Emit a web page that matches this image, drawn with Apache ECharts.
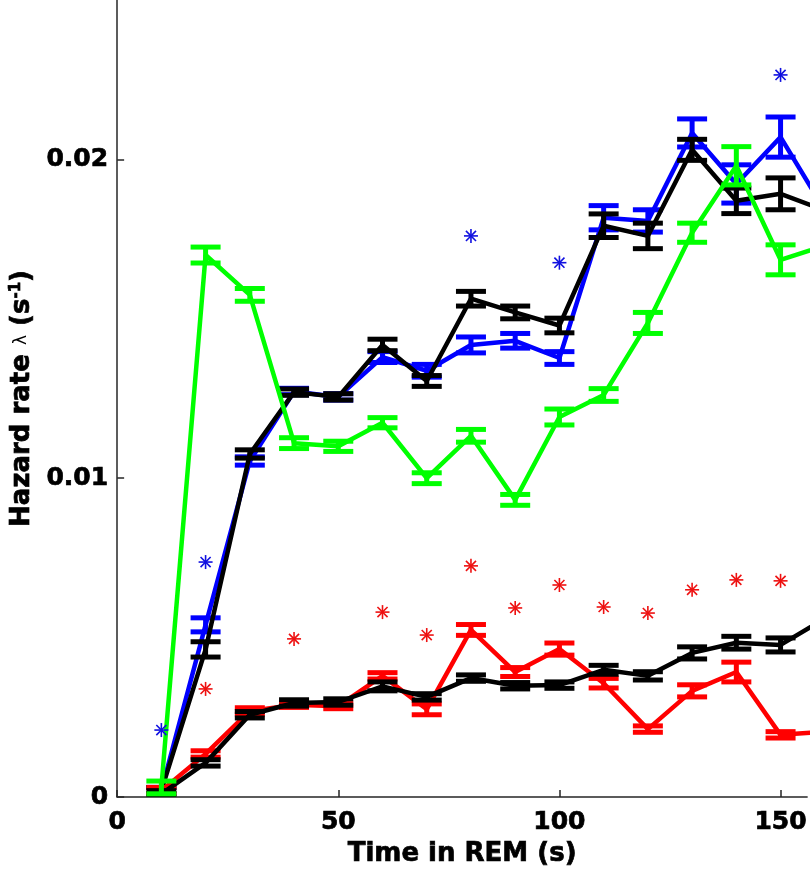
<!DOCTYPE html>
<html>
<head>
<meta charset="utf-8">
<script src="https://cdn.jsdelivr.net/npm/echarts@6/dist/echarts.min.js"></script>
<style>
html,body{margin:0;padding:0;background:#fff;}
#chart{width:810px;height:882px;}
</style>
</head>
<body>
<div id="chart"></div>
<script>
// ---- data ----
const timeBins = [10,20,30,40,50,60,70,80,90,100,110,120,130,140,150,160];

const greenMean = [0.0003,0.0170,0.01575,0.0111,0.0110,0.01174,0.0100,0.01133,0.00932,0.01192,0.01261,0.01487,0.0177,0.0198,0.01685,0.0173];
const greenErr  = [0.0002,0.00025,0.0002,0.00017,0.00016,0.00016,0.00017,0.0002,0.00017,0.00025,0.0002,0.00033,0.0003,0.0006,0.00047,0.0005];

const blueMean = [0.0002,0.0054,0.01054,0.01272,0.01255,0.0138,0.01337,0.01418,0.01431,0.01377,0.01817,0.01807,0.02083,0.01923,0.0207,0.0184];
const blueErr  = [0.0001,0.00022,0.00013,0.0001,0.0001,0.00017,0.0002,0.00025,0.00023,0.0002,0.00038,0.00035,0.00044,0.0006,0.00063,0.0006];

const blackUpperMean = [0.0002,0.00463,0.01076,0.0127,0.01255,0.01418,0.01305,0.01563,0.0152,0.01479,0.01792,0.0176,0.0203,0.0187,0.01892,0.0184];
const blackUpperErr  = [0.0001,0.00024,0.00013,0.0001,0.0001,0.00018,0.00017,0.00023,0.0002,0.00023,0.00037,0.0004,0.00033,0.0004,0.0005,0.0005];

const redMean = [0.0002,0.00135,0.0027,0.00289,0.00285,0.0038,0.00275,0.00524,0.00392,0.00464,0.00357,0.00213,0.00333,0.00392,0.00195,0.00205];
const redErr  = [0.0001,0.0001,0.0001,0.00008,0.00008,0.0001,0.00017,0.00017,0.00014,0.00019,0.00015,0.0001,0.00019,0.00031,0.0001,0.0001];

const blackLowerMean = [0.0001,0.00107,0.00258,0.00295,0.00298,0.00347,0.00314,0.00373,0.00349,0.00351,0.00399,0.0038,0.00452,0.00484,0.00477,0.0056];
const blackLowerErr  = [0.0001,0.0001,0.0001,0.0001,0.0001,0.00014,0.0001,0.0001,0.0001,0.0001,0.00014,0.00013,0.00019,0.0002,0.00022,0.0002];

const blueStarX = [10,20,80,100,150];
const blueStarY = [0.0021,0.00737,0.0176,0.01676,0.02265];

const redStarX = [20,40,60,70,80,90,100,110,120,130,140,150];
const redStarY = [0.00339,0.00496,0.0058,0.00508,0.00725,0.00593,0.00665,0.00596,0.00577,0.0065,0.00681,0.00678];

const xTicks = [0,50,100,150];
const yTicks = [0,0.01,0.02];

// ---- helpers ----
const FONT = 'DejaVu Sans';

function lineSeries(mean, color, z) {
  return {
    type: 'line',
    data: timeBins.map((x, i) => [x, mean[i]]),
    symbol: 'none',
    lineStyle: { color: color, width: 4.5 },
    clip: true,
    z: z,
    silent: true,
    animation: false
  };
}

function errSeries(mean, err, color, z) {
  return {
    type: 'custom',
    data: timeBins.map((x, i) => [x, mean[i], err[i]]),
    clip: true,
    z: z,
    silent: true,
    animation: false,
    renderItem: function (params, api) {
      const x = api.value(0), m = api.value(1), e = api.value(2);
      const top = api.coord([x, m + e]);
      const bot = api.coord([x, m - e]);
      const hw = 15;
      const st = { stroke: color, lineWidth: 5, fill: null };
      return {
        type: 'group',
        children: [
          { type: 'line', shape: { x1: top[0], y1: top[1], x2: bot[0], y2: bot[1] }, style: st },
          { type: 'line', shape: { x1: top[0] - hw, y1: top[1], x2: top[0] + hw, y2: top[1] }, style: st },
          { type: 'line', shape: { x1: bot[0] - hw, y1: bot[1], x2: bot[0] + hw, y2: bot[1] }, style: st }
        ]
      };
    }
  };
}

function starSeries(xs, ys, color, z) {
  return {
    type: 'custom',
    data: xs.map((x, i) => [x, ys[i]]),
    clip: true,
    z: z,
    silent: true,
    animation: false,
    renderItem: function (params, api) {
      const p = api.coord([api.value(0), api.value(1)]);
      const r = 7, d = r * 0.72;
      const st = { stroke: color, lineWidth: 1.6, fill: null };
      return {
        type: 'group',
        children: [
          { type: 'line', shape: { x1: p[0] - r, y1: p[1], x2: p[0] + r, y2: p[1] }, style: st },
          { type: 'line', shape: { x1: p[0], y1: p[1] - r, x2: p[0], y2: p[1] + r }, style: st },
          { type: 'line', shape: { x1: p[0] - d, y1: p[1] - d, x2: p[0] + d, y2: p[1] + d }, style: st },
          { type: 'line', shape: { x1: p[0] - d, y1: p[1] + d, x2: p[0] + d, y2: p[1] - d }, style: st }
        ]
      };
    }
  };
}

const chart = echarts.init(document.getElementById('chart'), null, { renderer: 'canvas' });

const boldText = { fontFamily: FONT, fontWeight: 'bold', color: '#000', textBorderColor: '#000', textBorderWidth: 0.7 };

const option = {
  animation: false,
  backgroundColor: '#ffffff',
  grid: { left: 117, top: 0, width: 693, height: 797, containLabel: false },
  xAxis: {
    type: 'value',
    min: 0,
    max: 156,
    splitLine: { show: false },
    axisLine: { show: true, onZero: false, lineStyle: { color: '#262626', width: 1.5 } },
    axisTick: { show: true, inside: true, length: 7, customValues: xTicks, lineStyle: { color: '#262626', width: 1.5 } },
    axisLabel: Object.assign({
      customValues: xTicks,
      margin: 13,
      fontSize: 25
    }, boldText),
    name: 'Time in REM (s)',
    nameLocation: 'middle',
    nameGap: 44,
    nameTextStyle: Object.assign({ fontSize: 26, verticalAlign: 'top' }, boldText)
  },
  yAxis: {
    type: 'value',
    min: 0,
    max: 0.025,
    splitLine: { show: false },
    axisLine: { show: true, onZero: false, lineStyle: { color: '#262626', width: 1.5 } },
    axisTick: { show: true, inside: true, length: 7, customValues: yTicks, lineStyle: { color: '#262626', width: 1.5 } },
    axisLabel: Object.assign({
      customValues: yTicks,
      margin: 9,
      formatter: function (v) { return v === 0 ? '0' : v.toFixed(2); },
      fontSize: 25
    }, boldText),
    name: '{b|Hazard rate }{l|λ}{b| (s}{sup|-1}{b|)}',
    nameLocation: 'middle',
    nameRotate: 90,
    nameGap: 80,
    nameTextStyle: {
      rich: {
        b: Object.assign({ fontSize: 26 }, boldText),
        l: { fontFamily: FONT, fontWeight: 'normal', fontSize: 17, color: '#000' },
        sup: Object.assign({ fontSize: 15, padding: [0, 0, 12, 0] }, boldText)
      }
    }
  },
  series: [
    lineSeries(blueMean, '#0000ff', 2), errSeries(blueMean, blueErr, '#0000ff', 2),
    lineSeries(blackUpperMean, '#000000', 3), errSeries(blackUpperMean, blackUpperErr, '#000000', 3),
    lineSeries(redMean, '#ff0000', 4), errSeries(redMean, redErr, '#ff0000', 4),
    lineSeries(blackLowerMean, '#000000', 5), errSeries(blackLowerMean, blackLowerErr, '#000000', 5),
    lineSeries(greenMean, '#00ff00', 6), errSeries(greenMean, greenErr, '#00ff00', 6),
    starSeries(blueStarX, blueStarY, '#1010e0', 7),
    starSeries(redStarX, redStarY, '#ee1111', 7)
  ]
};
chart.setOption(option);
</script>
</body>
</html>
